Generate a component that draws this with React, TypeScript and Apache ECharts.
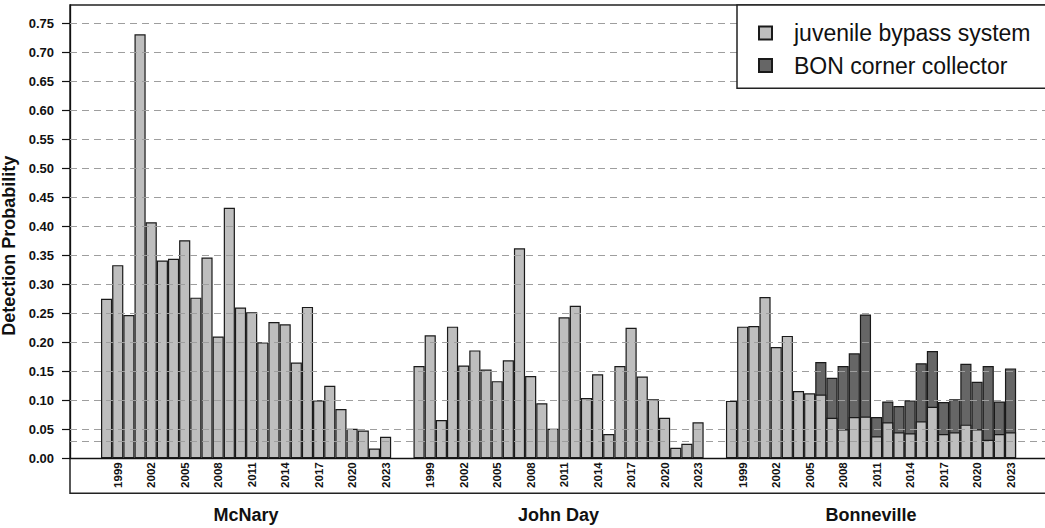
import React, { useEffect, useRef } from "react";
import * as echarts from "echarts";

// ---- data ----
const years = [1998, 1999, 2000, 2001, 2002, 2003, 2004, 2005, 2006, 2007, 2008, 2009, 2010,
  2011, 2012, 2013, 2014, 2015, 2016, 2017, 2018, 2019, 2020, 2021, 2022, 2023];
const labelYears = [1999, 2002, 2005, 2008, 2011, 2014, 2017, 2020, 2023];
const groups = ["McNary", "John Day", "Bonneville"];

const mcnary = [0.275, 0.333, 0.247, 0.731, 0.407, 0.341, 0.344, 0.376, 0.277, 0.346, 0.210, 0.432, 0.260,
  0.252, 0.200, 0.235, 0.231, 0.165, 0.261, 0.100, 0.125, 0.085, 0.051, 0.048, 0.017, 0.037];
const johnDay = [0.159, 0.212, 0.066, 0.227, 0.160, 0.186, 0.153, 0.133, 0.169, 0.362, 0.142, 0.095, 0.051,
  0.243, 0.263, 0.104, 0.145, 0.042, 0.159, 0.225, 0.141, 0.102, 0.070, 0.018, 0.025, 0.062];
const bonnevilleJuvenile = [0.099, 0.227, 0.228, 0.278, 0.192, 0.211, 0.116, 0.112, 0.110, 0.070, 0.050, 0.071, 0.072,
  0.038, 0.062, 0.045, 0.043, 0.064, 0.089, 0.042, 0.045, 0.058, 0.050, 0.032, 0.042, 0.045];
const bonnevilleCorner = [null, null, null, null, null, null, null, null, 0.056, 0.069, 0.109, 0.110, 0.176,
  0.033, 0.036, 0.045, 0.057, 0.100, 0.096, 0.055, 0.057, 0.105, 0.082, 0.127, 0.056, 0.110];

const yTicks = [0, 0.05, 0.1, 0.15, 0.2, 0.25, 0.3, 0.35, 0.4, 0.45, 0.5, 0.55, 0.6, 0.65, 0.7, 0.75];
const gridLevels = [0.025, 0.05, 0.1, 0.15, 0.2, 0.25, 0.3, 0.35, 0.4, 0.45, 0.5, 0.55, 0.6, 0.65, 0.7, 0.75];

const seriesNames = ["juvenile bypass system", "BON corner collector"];

// ---- layout constants ----
const GROUP_STEP = 28; // 26 bars + 2 gap
const BAR_PX = 11.16;
const GRID_LEFT = 70;
const GRID_TOP = 5;
const GRID_W = 990;
const ZERO_Y = 458.3;
const FRAME_BOTTOM = 493.3;
const PX_PER_UNIT = 580;
const FIRST_BAR_PX = 101;
const X_MIN = -(FIRST_BAR_PX - GRID_LEFT) / BAR_PX;
const X_MAX = X_MIN + GRID_W / BAR_PX;
const Y_MAX = (ZERO_Y - GRID_TOP) / PX_PER_UNIT;
const FONT = "'Liberation Sans', Arial, sans-serif";

export default function App() {
  const ref = useRef<HTMLDivElement>(null);

  useEffect(() => {
    if (!ref.current) return;
    const chart = echarts.init(ref.current, null, { renderer: "svg" });

    const groupValues = [mcnary, johnDay, bonnevilleJuvenile];
    const juvData: any[] = [];
    const totalData: any[] = [];
    groupValues.forEach((vals, g) => {
      vals.forEach((v, i) => {
        const x = g * GROUP_STEP + i + 0.5;
        juvData.push([x, v]);
        const c = g === 2 ? bonnevilleCorner[i] : null;
        // BON corner collector segment sits on top of the juvenile bypass value
        totalData.push([x, c == null ? null : v + c]);
      });
    });

    const yearPositions: number[] = [];
    groups.forEach((_, g) => {
      labelYears.forEach((y) => {
        yearPositions.push(g * GROUP_STEP + years.indexOf(y) + 0.5);
      });
    });
    const groupCenters = groups.map((_, g) => g * GROUP_STEP + years.length / 2);

    const option: any = {
      animation: false,
      textStyle: { fontFamily: FONT },
      grid: {
        left: GRID_LEFT,
        top: GRID_TOP,
        width: GRID_W,
        height: ZERO_Y - GRID_TOP,
        show: false,
        containLabel: false,
        outerBoundsMode: "none",
      },
      legend: {
        orient: "vertical",
        left: 758,
        top: 21.5,
        padding: 0,
        itemWidth: 13,
        itemHeight: 13,
        itemGap: 9.5,
        icon: "rect",
        z: 60,
        data: seriesNames,
        textStyle: { fontSize: 23, color: "#111", lineHeight: 23, padding: [0, 0, 0, 17], fontFamily: FONT },
      },
      graphic: [
        {
          type: "rect",
          z: -1,
          silent: true,
          shape: { x: GRID_LEFT, y: GRID_TOP, width: GRID_W, height: FRAME_BOTTOM - GRID_TOP },
          style: { fill: "none", stroke: "#222", lineWidth: 1.5 },
        },
        {
          type: "rect",
          z: 50,
          shape: { x: 737, y: 5, width: 400, height: 83.3 },
          style: { fill: "#fff", stroke: "#222", lineWidth: 1.5 },
        },
      ],
      xAxis: [
        {
          type: "value",
          min: X_MIN,
          max: X_MAX,
          axisLine: { show: true, onZero: false, lineStyle: { color: "#111", width: 1.3 } },
          axisTick: { show: false },
          splitLine: { show: false },
          axisLabel: {
            customValues: yearPositions,
            formatter: (v: number) => String(years[Math.floor(v % GROUP_STEP)]),
            rotate: 90,
            fontSize: 11.5,
            fontWeight: "bold",
            color: "#111",
            margin: 4,
            fontFamily: FONT,
          },
        },
        {
          type: "value",
          min: X_MIN,
          max: X_MAX,
          position: "bottom",
          offset: FRAME_BOTTOM - ZERO_Y,
          axisLine: { show: false, onZero: false },
          axisTick: { show: false },
          splitLine: { show: false },
          axisLabel: {
            customValues: groupCenters,
            formatter: (v: number) => groups[Math.floor(v / GROUP_STEP)],
            fontSize: 18,
            fontWeight: "bold",
            color: "#111",
            margin: 13,
            fontFamily: FONT,
          },
        },
      ],
      yAxis: {
        type: "value",
        min: 0,
        max: Y_MAX,
        axisLine: { show: true, onZero: false, lineStyle: { color: "#111", width: 1.3 } },
        axisTick: { show: true, customValues: yTicks, length: 8, lineStyle: { color: "#111", width: 1.2 } },
        axisLabel: {
          customValues: yTicks,
          formatter: (v: number) => v.toFixed(2),
          fontSize: 13,
          fontWeight: "bold",
          color: "#111",
          margin: 16,
          fontFamily: FONT,
        },
        splitLine: { show: false },
        name: "Detection Probability",
        nameLocation: "middle",
        nameGap: 51,
        nameTextStyle: {
          fontSize: 18,
          fontWeight: "bold",
          color: "#111",
          fontFamily: FONT,
          padding: [0, 28, 0, 0],
        },
      },
      series: [
        {
          name: seriesNames[1],
          type: "bar",
          xAxisIndex: 0,
          barWidth: BAR_PX,
          barGap: "-100%",
          data: totalData,
          itemStyle: { color: "#666666", borderColor: "#1a1a1a", borderWidth: 1.2 },
        },
        {
          name: seriesNames[0],
          type: "bar",
          xAxisIndex: 0,
          barWidth: BAR_PX,
          barGap: "-100%",
          data: juvData,
          itemStyle: { color: "#bebebe", borderColor: "#1a1a1a", borderWidth: 1.2 },
          markLine: {
            silent: true,
            symbol: ["none", "none"],
            label: { show: false },
            lineStyle: { type: [7, 5], color: "#9e9e9e", width: 1.2 },
            data: gridLevels.map((v) => ({ yAxis: v })),
          },
        },
      ],
    };

    chart.setOption(option);
    return () => chart.dispose();
  }, []);

  return (
    <div
      ref={ref}
      style={{ position: "fixed", left: 0, top: 0, width: 1045, height: 528, background: "#fff" }}
    />
  );
}
